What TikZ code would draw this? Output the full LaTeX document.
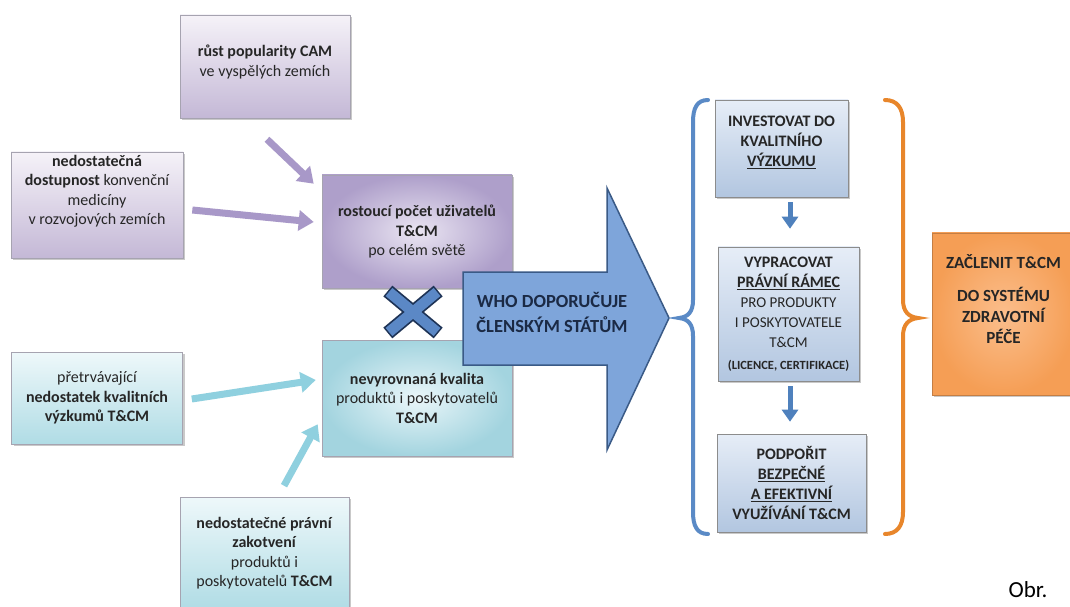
\documentclass[tikz,border=0pt]{standalone}
\usepackage{fontspec}
\setmainfont{Carlito}
\usepackage{tikz}
\usetikzlibrary{calc, shapes, arrows.meta, shadows, positioning}
\definecolor{purpletop}{HTML}{F5F2F8}
\definecolor{purplebot}{HTML}{C4B8D6}
\definecolor{purplein}{HTML}{EAE5F2}
\definecolor{purpleout}{HTML}{AE9FCA}
\definecolor{tealtop}{HTML}{EEF8FA}
\definecolor{tealbot}{HTML}{B0DCE5}
\definecolor{tealin}{HTML}{EAF6F9}
\definecolor{tealout}{HTML}{A3D4DF}
\definecolor{bluetop}{HTML}{E6EDF7}
\definecolor{bluebot}{HTML}{B2C6E0}
\definecolor{orangein}{HTML}{FBBE8C}
\definecolor{orangeout}{HTML}{F59E55}
\definecolor{boxline}{HTML}{A6A3B0}
\definecolor{boxtext}{HTML}{262626}
\definecolor{purplearrow}{HTML}{A898C8}
\definecolor{tealarrow}{HTML}{8FD0DF}
\definecolor{bluearrow}{HTML}{4F81BD}
\definecolor{bigfill}{HTML}{7EA5DA}
\definecolor{bigline}{HTML}{3A5A86}
\definecolor{bigtext}{HTML}{1B2A45}
\definecolor{crossfill}{HTML}{5B88C6}
\definecolor{crossline}{HTML}{1E3356}
\definecolor{braceblue}{HTML}{5A8AC6}
\definecolor{braceorange}{HTML}{E8862B}
\tikzset{
    boxnode/.style = {draw=boxline, line width=0.6pt, rectangle, inner sep=0.2em, align=center,
      node distance=0em, text=boxtext, font=\fontsize{16}{19.5}\selectfont,
      drop shadow={shadow xshift=2pt, shadow yshift=-2pt, opacity=0.35, fill=black!60}},
    purplenode/.style = {boxnode, top color=purpletop, bottom color=purplebot},
    tealnode/.style = {boxnode, top color=tealtop, bottom color=tealbot},
    bluenode/.style = {boxnode, top color=bluetop, bottom color=bluebot, draw=black!45,
      font=\bfseries\fontsize{16}{20}\selectfont},
    orangenode/.style = {boxnode, shading=radial, inner color=orangein, outer color=orangeout,
      draw=orangeout!80!black, font=\bfseries\fontsize{17}{21}\selectfont},
    purpleconnect/.style = {purplearrow, line width=7pt, -{Triangle[width=20pt,length=15pt]}},
    tealconnect/.style = {tealarrow, line width=7pt, -{Triangle[width=20pt,length=15pt]}},
    downconnect/.style = {bluearrow, line width=5pt, -{Triangle[width=16pt,length=12pt]}},
    bracestyle/.style = {line width=4pt, line cap=round},
    bigarrow/.style = {fill=bigfill, draw=bigline, line width=1.5pt, line join=miter},
}

\begin{document}
\begin{tikzpicture}[x=1pt, y=1pt, node distance=0pt]
\useasboundingbox (0,0) rectangle (1070,606);
\fill[white] (0,0) rectangle (1070,606);

% left side: causes
\node [purplenode, name=Growing, shading=radial, inner color=purplein, outer color=purpleout,
  minimum width=190pt, minimum height=113pt] at (417,374.5)
  {\textbf{rostoucí počet uživatelů}\\ \textbf{T\&CM}\\ po celém světě};
\node [purplenode, name=Popular, above of=Growing, xshift=-152pt, yshift=165pt,
  minimum width=170pt, minimum height=103pt, text depth=12pt]
  {\textbf{růst popularity CAM}\\ ve vyspělých zemích};
\node [purplenode, name=Access, left of=Growing, xshift=-320pt, yshift=26.5pt,
  minimum width=172pt, minimum height=106pt, text depth=30pt]
  {\textbf{nedostatečná}\\ \textbf{dostupnost} konvenční\\ medicíny\\ v rozvojových zemích};

\node [tealnode, name=Quality, below of=Growing, yshift=-166.5pt, shading=radial,
  inner color=tealin, outer color=tealout, minimum width=190pt, minimum height=116pt]
  {\textbf{nevyrovnaná kvalita}\\ produktů i poskytovatelů\\ \textbf{T\&CM}};
\node [tealnode, name=Research, left of=Quality, xshift=-320pt,
  minimum width=171pt, minimum height=92pt]
  {přetrvávající\\ \textbf{nedostatek kvalitních}\\ \textbf{výzkumů T\&CM}};
\node [tealnode, name=Legal, below of=Quality, xshift=-152.5pt, yshift=-155pt,
  minimum width=169pt, minimum height=112pt]
  {\textbf{nedostatečné právní}\\ \textbf{zakotvení}\\ produktů i\\ poskytovatelů \textbf{T\&CM}};

\draw [purpleconnect] ($(Popular.south)+(2,-21)$) -- ($(Growing.north west)+(-8,-9)$);
\draw [purpleconnect] ($(Access.east)+(9,-5)$) -- ($(Growing.west)+(-8,9.5)$);
\draw [tealconnect] ($(Research.east)+(9,-1)$) -- ($(Quality.west)+(-6,18)$);
\draw [tealconnect] ($(Legal.north)+(19.5,11)$) -- ($(Quality.south west)+(-4,32)$);

% the cross
\draw [crossline, line width=14pt] (387.8,315) -- (438.2,273) (438.2,315) -- (387.8,273);
\draw [crossfill, line width=10.5pt] (389,314) -- (437,274) (437,314) -- (389,274);

% big arrow
\draw [bigarrow] (463,334) -- (607,334) -- (607,418) -- (669,288) -- (607,156)
  -- (607,241) -- (463,241) -- cycle;
\node [name=Who, text=bigtext, align=center, font=\bfseries\fontsize{18.5}{25}\selectfont]
  at (552,294) {WHO DOPORUČUJE\\ ČLENSKÝM STÁTŮM};

% right side: recommendations
\node [bluenode, name=Invest, minimum width=133pt, minimum height=97pt, text depth=14pt]
  at (781.5,457.5) {INVESTOVAT DO\\ KVALITNÍHO\\ \underline{VÝZKUMU}};
\node [bluenode, name=Frame, below of=Invest, xshift=7pt, yshift=-165.5pt,
  minimum width=141pt, minimum height=134pt]
  {VYPRACOVAT\\ \underline{PRÁVNÍ RÁMEC}\\ \mdseries\fontsize{15}{20}\selectfont PRO PRODUKTY\\
   \mdseries\fontsize{15}{20}\selectfont I POSKYTOVATELE\\
   \mdseries\fontsize{15}{20}\selectfont T\&CM\\[2pt] {\fontsize{12.5}{14}\selectfont (LICENCE, CERTIFIKACE)}};
\node [bluenode, name=Support, below of=Frame, xshift=3pt, yshift=-169pt,
  minimum width=149pt, minimum height=98pt]
  {PODPOŘIT\\ \underline{BEZPEČNÉ}\\ \underline{A EFEKTIVNÍ}\\ VYUŽÍVÁNÍ T\&CM};
\draw [downconnect] ($(Invest.south)+(8.5,-5)$) -- ($(Frame.north)+(1.5,18)$);
\draw [downconnect] ($(Frame.south)+(1.5,-5)$) -- ($(Support.north)+(-1.5,12)$);

% braces
\draw [bracestyle, braceblue] (708,506) .. controls (697,506) and (693,498) .. (693,484)
  -- (693,306) .. controls (693,294) and (688,289) .. (679,288)
  .. controls (688,287) and (693,282) .. (693,270)
  -- (693,94) .. controls (693,80) and (697,72) .. (708,72);
\draw [bracestyle, braceorange] (885,506) .. controls (897,506) and (903,498) .. (903,484)
  -- (903,306) .. controls (903,294) and (909,289) .. (918,288)
  .. controls (909,287) and (903,282) .. (903,270)
  -- (903,94) .. controls (903,80) and (897,72) .. (885,72);

\node [orangenode, name=Integrate, right of=Frame, xshift=215pt, minimum width=143pt,
  minimum height=162pt, text depth=30pt]
  {ZAČLENIT T\&CM\\[12pt] DO SYSTÉMU\\ ZDRAVOTNÍ\\ PÉČE};

\node [name=Obr, font=\fontsize{23}{26}\selectfont, text=black] at (1028,16) {Obr.};
\end{tikzpicture}
\end{document}
